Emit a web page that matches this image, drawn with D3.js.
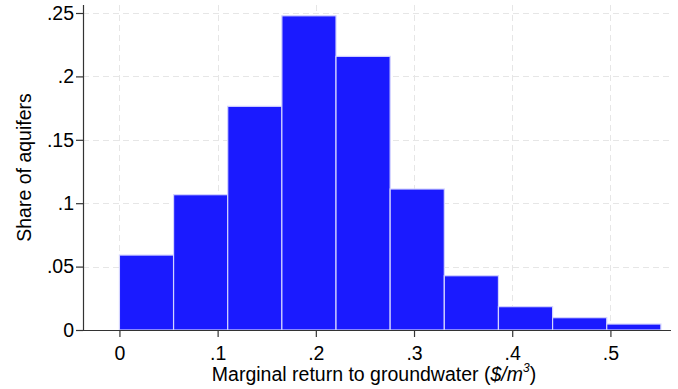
<!DOCTYPE html>
<html>
<head>
<meta charset="utf-8">
<script src="https://cdn.jsdelivr.net/npm/d3@7"></script>
<style>
  html, body { margin: 0; padding: 0; background: #fff; }
  svg { display: block; font-family: "Liberation Sans", Arial, sans-serif; }
</style>
</head>
<body>
<svg id="chart" width="678" height="389"></svg>
<script>
// Histogram: marginal return to groundwater ($/m^3), share of aquifers per bin
const binStart = 0;
const binWidth = 0.05514;
const shares = [0.0591, 0.1067, 0.1764, 0.2478, 0.2158, 0.1112, 0.0428, 0.0184, 0.0097, 0.0047];
const xTicks = [0, 0.1, 0.2, 0.3, 0.4, 0.5];
const yTicks = [0, 0.05, 0.1, 0.15, 0.2, 0.25];

const svg = d3.select("#chart");
const plotLeft = 83, plotRight = 671, plotTop = 5, plotBottom = 330;
const fontSize = "19.5px";

// data range chosen so that 0 sits at x≈119.5 and .5 at x≈610.5
const x = d3.scaleLinear().domain([-0.0371, 0.5617]).range([plotLeft, plotRight]);
const y = d3.scaleLinear().domain([0, 0.25]).range([plotBottom, 13]);

const fmt = v => v === 0 ? "0" : String(+v.toFixed(2)).replace(/^0\./, ".");

// dashed grid
const grid = svg.append("g").attr("stroke", "#e6e6e6").attr("stroke-width", 1)
  .attr("stroke-dasharray", "6,4").attr("fill", "none");
yTicks.filter(v => v > 0).forEach(v => {
  grid.append("line").attr("x1", plotLeft).attr("x2", plotRight)
    .attr("y1", Math.round(y(v)) + 0.5).attr("y2", Math.round(y(v)) + 0.5);
});
xTicks.forEach(v => {
  grid.append("line").attr("y1", plotTop).attr("y2", plotBottom)
    .attr("x1", Math.round(x(v)) + 0.5).attr("x2", Math.round(x(v)) + 0.5);
});

// bars
const bins = shares.map((s, i) => ({ x0: binStart + i * binWidth, x1: binStart + (i + 1) * binWidth, v: s }));
svg.append("g").selectAll("rect").data(bins).join("rect")
  .attr("x", d => x(d.x0))
  .attr("width", d => x(d.x1) - x(d.x0))
  .attr("y", d => y(d.v))
  .attr("height", d => y(0) - y(d.v))
  .attr("fill", "#1a1aff")
  .attr("stroke", "#d4d4ff")
  .attr("stroke-width", 1.2);

// axes
const xAxis = d3.axisBottom(x).tickValues(xTicks).tickFormat(fmt).tickSize(7).tickPadding(9);
const yAxis = d3.axisLeft(y).tickValues(yTicks).tickFormat(fmt).tickSize(7).tickPadding(2);

const gx = svg.append("g").attr("transform", `translate(0,${plotBottom})`).call(xAxis);
gx.select(".domain").attr("d", `M${plotLeft},0.5H${plotRight}`);
const gy = svg.append("g").attr("transform", `translate(${plotLeft},0)`).call(yAxis);
gy.select(".domain").attr("d", `M0.5,${plotBottom}V${plotTop}`);

[gx, gy].forEach(g => {
  g.selectAll(".domain").attr("stroke", "#333").attr("stroke-width", 1.2);
  g.selectAll(".tick line").attr("stroke", "#333").attr("stroke-width", 1.2);
  g.selectAll(".tick text").attr("fill", "#000").style("font-size", fontSize)
    .style("font-family", "'Liberation Sans', Arial, sans-serif");
});

// axis titles
svg.append("text")
  .attr("transform", `translate(31,${(plotTop + plotBottom) / 2}) rotate(-90)`)
  .attr("text-anchor", "middle")
  .style("font-size", fontSize)
  .text("Share of aquifers");

const xt = svg.append("text")
  .attr("x", 374).attr("y", 381)
  .attr("text-anchor", "middle")
  .style("font-size", fontSize);
xt.append("tspan").text("Marginal return to groundwater (");
xt.append("tspan").attr("font-style", "italic").text("$/m");
xt.append("tspan").attr("font-style", "italic").attr("dy", -9).style("font-size", "12px").text("3");
xt.append("tspan").attr("dy", 9).text(")");
</script>
</body>
</html>
